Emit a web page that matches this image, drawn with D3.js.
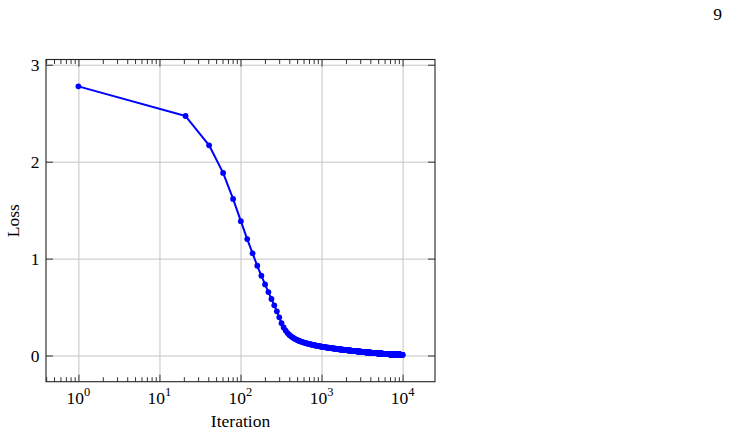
<!DOCTYPE html>
<html>
<head>
<meta charset="utf-8">
<script src="https://cdn.jsdelivr.net/npm/d3@7"></script>
<style>
  body { margin: 0; background: #fff; }
  svg { display: block; font-family: "Liberation Serif", "Times New Roman", serif; }
</style>
</head>
<body>
<div id="chart"></div>
<script>
// Training loss, one sample every 20 iterations starting at iteration 1
const iterStart = 1;
const iterStep = 20;
const lossValues = [
  2.777, 2.471, 2.169, 1.884, 1.616, 1.386, 1.201, 1.054, 0.926, 0.823,
  0.734, 0.655, 0.583, 0.518, 0.456, 0.394, 0.333, 0.290, 0.257, 0.232,
  0.213, 0.198, 0.186, 0.176, 0.167, 0.160, 0.153, 0.148, 0.143, 0.139,
  0.135, 0.131, 0.128, 0.125, 0.122, 0.119, 0.117, 0.114, 0.112, 0.110,
  0.108, 0.106, 0.104, 0.102, 0.100, 0.099, 0.097, 0.096, 0.094, 0.093,
  0.091, 0.090, 0.089, 0.088, 0.087, 0.086, 0.085, 0.084, 0.083, 0.082,
  0.081, 0.080, 0.079, 0.078, 0.078, 0.077, 0.076, 0.075, 0.075, 0.074,
  0.073, 0.072, 0.072, 0.071, 0.070, 0.070, 0.069, 0.068, 0.068, 0.067,
  0.066, 0.066, 0.065, 0.065, 0.064, 0.063, 0.063, 0.062, 0.062, 0.061,
  0.061, 0.060, 0.060, 0.059, 0.059, 0.058, 0.058, 0.058, 0.057, 0.057,
  0.056, 0.056, 0.055, 0.055, 0.055, 0.054, 0.054, 0.053, 0.053, 0.053,
  0.052, 0.052, 0.052, 0.051, 0.051, 0.050, 0.050, 0.050, 0.049, 0.049,
  0.049, 0.048, 0.048, 0.048, 0.047, 0.047, 0.047, 0.046, 0.046, 0.046,
  0.045, 0.045, 0.045, 0.045, 0.044, 0.044, 0.044, 0.043, 0.043, 0.043,
  0.043, 0.042, 0.042, 0.042, 0.041, 0.041, 0.041, 0.041, 0.040, 0.040,
  0.040, 0.040, 0.039, 0.039, 0.039, 0.039, 0.038, 0.038, 0.038, 0.038,
  0.037, 0.037, 0.037, 0.037, 0.036, 0.036, 0.036, 0.036, 0.036, 0.035,
  0.035, 0.035, 0.035, 0.034, 0.034, 0.034, 0.034, 0.034, 0.033, 0.033,
  0.033, 0.033, 0.033, 0.032, 0.032, 0.032, 0.032, 0.032, 0.031, 0.031,
  0.031, 0.031, 0.031, 0.031, 0.030, 0.030, 0.030, 0.030, 0.030, 0.030,
  0.029, 0.029, 0.029, 0.029, 0.029, 0.029, 0.028, 0.028, 0.028, 0.028,
  0.028, 0.028, 0.027, 0.027, 0.027, 0.027, 0.027, 0.027, 0.027, 0.026,
  0.026, 0.026, 0.026, 0.026, 0.026, 0.026, 0.025, 0.025, 0.025, 0.025,
  0.025, 0.025, 0.025, 0.025, 0.024, 0.024, 0.024, 0.024, 0.024, 0.024,
  0.024, 0.024, 0.023, 0.023, 0.023, 0.023, 0.023, 0.023, 0.023, 0.023,
  0.022, 0.022, 0.022, 0.022, 0.022, 0.022, 0.022, 0.022, 0.021, 0.021,
  0.021, 0.021, 0.021, 0.021, 0.021, 0.021, 0.021, 0.020, 0.020, 0.020,
  0.020, 0.020, 0.020, 0.020, 0.020, 0.020, 0.019, 0.019, 0.019, 0.019,
  0.019, 0.019, 0.019, 0.019, 0.019, 0.019, 0.018, 0.018, 0.018, 0.018,
  0.018, 0.018, 0.018, 0.018, 0.018, 0.018, 0.018, 0.017, 0.017, 0.017,
  0.017, 0.017, 0.017, 0.017, 0.017, 0.017, 0.017, 0.017, 0.016, 0.016,
  0.016, 0.016, 0.016, 0.016, 0.016, 0.016, 0.016, 0.016, 0.016, 0.015,
  0.015, 0.015, 0.015, 0.015, 0.015, 0.015, 0.015, 0.015, 0.015, 0.015,
  0.014, 0.014, 0.014, 0.014, 0.014, 0.014, 0.014, 0.014, 0.014, 0.014,
  0.014, 0.014, 0.013, 0.013, 0.013, 0.013, 0.013, 0.013, 0.013, 0.013,
  0.013, 0.013, 0.013, 0.013, 0.013, 0.012, 0.012, 0.012, 0.012, 0.012,
  0.012, 0.012, 0.012, 0.012, 0.012, 0.012, 0.012, 0.012, 0.012, 0.011,
  0.011, 0.011, 0.011, 0.011, 0.011, 0.011, 0.011, 0.011, 0.011, 0.011,
  0.011, 0.011, 0.011, 0.011, 0.011, 0.011, 0.010, 0.010, 0.010, 0.010,
  0.010, 0.010, 0.010, 0.010, 0.010, 0.010, 0.010, 0.010, 0.010, 0.010,
  0.010, 0.010, 0.010, 0.010, 0.010, 0.010, 0.009, 0.009, 0.009, 0.009,
  0.009, 0.009, 0.009, 0.009, 0.009, 0.009, 0.009, 0.009, 0.009, 0.009,
  0.009, 0.009, 0.009, 0.009, 0.009, 0.009, 0.009, 0.009, 0.009, 0.009,
  0.009, 0.009, 0.009, 0.009, 0.009, 0.009, 0.008, 0.008, 0.008, 0.008,
  0.008, 0.008, 0.008, 0.008, 0.008, 0.008, 0.008, 0.008, 0.008, 0.008,
  0.008, 0.008, 0.008, 0.008, 0.008, 0.008, 0.008, 0.008, 0.008, 0.008,
  0.008, 0.008, 0.008, 0.008, 0.008, 0.008, 0.008, 0.008, 0.008, 0.008,
  0.008, 0.008, 0.008, 0.008, 0.008, 0.008, 0.007, 0.007, 0.007, 0.007,
  0.007, 0.007, 0.007, 0.007, 0.007, 0.007, 0.007, 0.007, 0.007, 0.007,
  0.007, 0.007, 0.007, 0.007, 0.007, 0.007, 0.007, 0.007, 0.007, 0.007,
  0.007
];
const xMajorTicks = [1, 10, 100, 1000, 10000];
const yTicks = [0, 1, 2, 3];
const pageNumber = "9";

// 1. Datos
const data = lossValues.map((v, i) => ({ iter: iterStart + i * iterStep, loss: v }));

// 2. Lienzo
const W = 732, H = 435;
const plot = { left: 46, right: 435, top: 59.5, bottom: 381.7 };

const svg = d3.select("#chart").append("svg")
  .attr("width", W).attr("height", H);

// 3. Escalas (enlargelimits 10% como pgfplots)
const lx = d3.extent(data, d => Math.log10(d.iter));
const padX = (lx[1] - lx[0]) * 0.1;
const x = d3.scaleLog()
  .domain([Math.pow(10, lx[0] - padX), Math.pow(10, lx[1] + padX)])
  .range([plot.left, plot.right]);

const ly = d3.extent(data, d => d.loss);
const padY = (ly[1] - ly[0]) * 0.1;
const y = d3.scaleLinear()
  .domain([ly[0] - padY, ly[1] + padY])
  .range([plot.bottom, plot.top]);

const plotW = plot.right - plot.left;
const plotH = plot.bottom - plot.top;

// 4. Rejilla
const gridColor = "#c4c4c4";
svg.append("g")
  .attr("transform", `translate(0,${plot.bottom})`)
  .call(d3.axisBottom(x).tickValues(xMajorTicks).tickSize(-plotH).tickFormat(""))
  .call(g => g.select(".domain").remove())
  .call(g => g.selectAll("line").attr("stroke", gridColor).attr("stroke-width", 1));

svg.append("g")
  .attr("transform", `translate(${plot.left},0)`)
  .call(d3.axisLeft(y).tickValues(yTicks).tickSize(-plotW).tickFormat(""))
  .call(g => g.select(".domain").remove())
  .call(g => g.selectAll("line").attr("stroke", gridColor).attr("stroke-width", 1));

// 5. Marcas menores del eje log (2..9 por década, hasta 10^4)
const minorTicks = [];
for (let e = -1; e < 4; e++) {
  for (let m = 2; m <= 9; m++) {
    const v = m * Math.pow(10, e);
    if (v >= x.domain()[0]) minorTicks.push(v);
  }
}
const tickColor = "#333";
svg.append("g")
  .attr("transform", `translate(0,${plot.bottom})`)
  .call(d3.axisBottom(x).tickValues(minorTicks).tickSize(-4.5).tickFormat(""))
  .call(g => g.select(".domain").remove())
  .call(g => g.selectAll("line").attr("stroke", tickColor));
svg.append("g")
  .attr("transform", `translate(0,${plot.top})`)
  .call(d3.axisTop(x).tickValues(minorTicks).tickSize(-4.5).tickFormat(""))
  .call(g => g.select(".domain").remove())
  .call(g => g.selectAll("line").attr("stroke", tickColor));

// Marcas mayores (hacia dentro)
svg.append("g")
  .attr("transform", `translate(0,${plot.bottom})`)
  .call(d3.axisBottom(x).tickValues(xMajorTicks).tickSize(-7).tickFormat(""))
  .call(g => g.select(".domain").remove())
  .call(g => g.selectAll("line").attr("stroke", tickColor));
svg.append("g")
  .attr("transform", `translate(0,${plot.top})`)
  .call(d3.axisTop(x).tickValues(xMajorTicks).tickSize(-7).tickFormat(""))
  .call(g => g.select(".domain").remove())
  .call(g => g.selectAll("line").attr("stroke", tickColor));
svg.append("g")
  .attr("transform", `translate(${plot.left},0)`)
  .call(d3.axisLeft(y).tickValues(yTicks).tickSize(-7).tickFormat(""))
  .call(g => g.select(".domain").remove())
  .call(g => g.selectAll("line").attr("stroke", tickColor));
svg.append("g")
  .attr("transform", `translate(${plot.right},0)`)
  .call(d3.axisRight(y).tickValues(yTicks).tickSize(-7).tickFormat(""))
  .call(g => g.select(".domain").remove())
  .call(g => g.selectAll("line").attr("stroke", tickColor));

// 6. Etiquetas de los ejes
const fontSize = 17.5;
const xLabels = svg.append("g")
  .selectAll("text")
  .data(xMajorTicks)
  .join("text")
  .attr("x", d => x(d))
  .attr("y", 403.5)
  .attr("text-anchor", "middle")
  .attr("font-size", fontSize)
  .attr("fill", "#000");
xLabels.append("tspan").text("10");
xLabels.append("tspan")
  .attr("dy", -7.5)
  .attr("font-size", 12.5)
  .text(d => Math.round(Math.log10(d)));

svg.append("g")
  .selectAll("text")
  .data(yTicks)
  .join("text")
  .attr("x", 39.5)
  .attr("y", d => y(d) + 6)
  .attr("text-anchor", "end")
  .attr("font-size", fontSize)
  .attr("fill", "#000")
  .text(d => d);

svg.append("text")
  .attr("x", (plot.left + plot.right) / 2)
  .attr("y", 427)
  .attr("text-anchor", "middle")
  .attr("font-size", fontSize)
  .text("Iteration");

svg.append("text")
  .attr("transform", `translate(19,${(plot.top + plot.bottom) / 2}) rotate(-90)`)
  .attr("text-anchor", "middle")
  .attr("font-size", fontSize)
  .text("Loss");

svg.append("text")
  .attr("x", 722)
  .attr("y", 20)
  .attr("text-anchor", "end")
  .attr("font-size", fontSize)
  .text(pageNumber);

// 7. Serie
const line = d3.line()
  .x(d => x(d.iter))
  .y(d => y(d.loss));

svg.append("path")
  .datum(data)
  .attr("fill", "none")
  .attr("stroke", "#0000ff")
  .attr("stroke-width", 2)
  .attr("stroke-linejoin", "round")
  .attr("d", line);

svg.append("g")
  .selectAll("circle")
  .data(data)
  .join("circle")
  .attr("cx", d => x(d.iter))
  .attr("cy", d => y(d.loss))
  .attr("r", 2.9)
  .attr("fill", "#0000ff");

// 8. Marco
svg.append("rect")
  .attr("x", plot.left)
  .attr("y", plot.top)
  .attr("width", plotW)
  .attr("height", plotH)
  .attr("fill", "none")
  .attr("stroke", "#222")
  .attr("stroke-width", 1.1);
</script>
</body>
</html>
